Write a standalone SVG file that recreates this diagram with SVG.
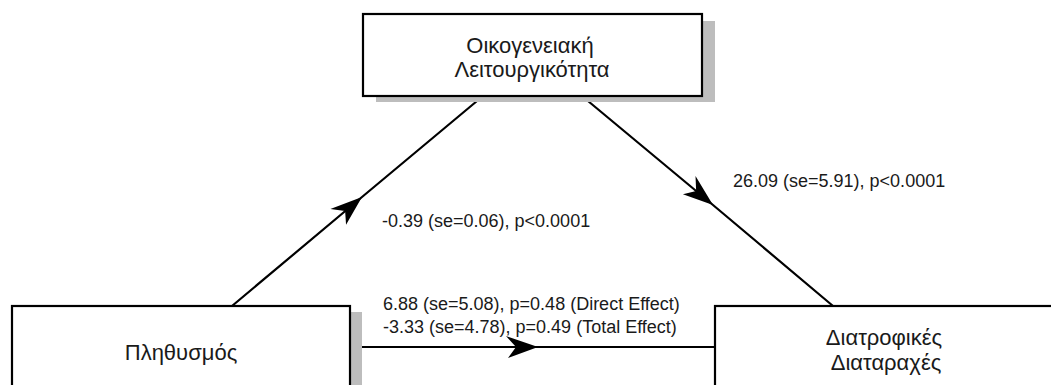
<svg xmlns="http://www.w3.org/2000/svg" width="1051" height="385" viewBox="0 0 1051 385">
<style>
.shadow{fill:#bdbdbd;stroke:none}
.box{fill:#ffffff;stroke:#000000;stroke-width:2.2}
.node-text{font-family:"Liberation Sans",Arial,sans-serif;font-size:22px;fill:#1a1a1a;text-anchor:middle}
.label{font-family:"Liberation Sans",Arial,sans-serif;font-size:18px;fill:#1a1a1a}
.conn{fill:none;stroke:#000000;stroke-width:2.2}
</style>
<defs>
<marker id="arrow" markerUnits="userSpaceOnUse" markerWidth="40" markerHeight="30" viewBox="-32 -15 40 30" refX="0" refY="0" orient="auto">
<path d="M0,0 L-32,-11 L-22,0 L-30,11 Z" fill="#000000"/>
</marker>
</defs>
<rect width="1051" height="385" fill="#ffffff"/>
<g id="connectors">
<path class="conn" d="M232,306 L362,197 L477,101" marker-mid="url(#arrow)"/>
<path class="conn" d="M588,101 L713,205 L833,306" marker-mid="url(#arrow)"/>
<path class="conn" d="M362,347 L538,347 L715,347" marker-mid="url(#arrow)"/>
</g>
<g id="node-top">
<rect class="shadow" x="376" y="21" width="339" height="81"/>
<rect class="box" x="363" y="14" width="339" height="82"/>
<text class="node-text" x="530" y="53">Οικογενειακή</text>
<text class="node-text" x="532" y="77">Λειτουργικότητα</text>
</g>
<g id="node-left">
<rect class="shadow" x="350" y="312" width="12" height="80"/>
<rect class="box" x="12" y="306" width="338" height="90"/>
<text class="node-text" x="181" y="360">Πληθυσμός</text>
</g>
<g id="node-right">
<rect class="box" x="715" y="306" width="350" height="90"/>
<text class="node-text" x="884" y="345">Διατροφικές</text>
<text class="node-text" x="886" y="370">Διαταραχές</text>
</g>
<g id="labels">
<text class="label" x="733" y="187">26.09 (se=5.91), p&lt;0.0001</text>
<text class="label" x="382" y="227">-0.39 (se=0.06), p&lt;0.0001</text>
<text class="label" x="383" y="310">6.88 (se=5.08), p=0.48 (Direct Effect)</text>
<text class="label" x="383" y="333">-3.33 (se=4.78), p=0.49 (Total Effect)</text>
</g>
</svg>
